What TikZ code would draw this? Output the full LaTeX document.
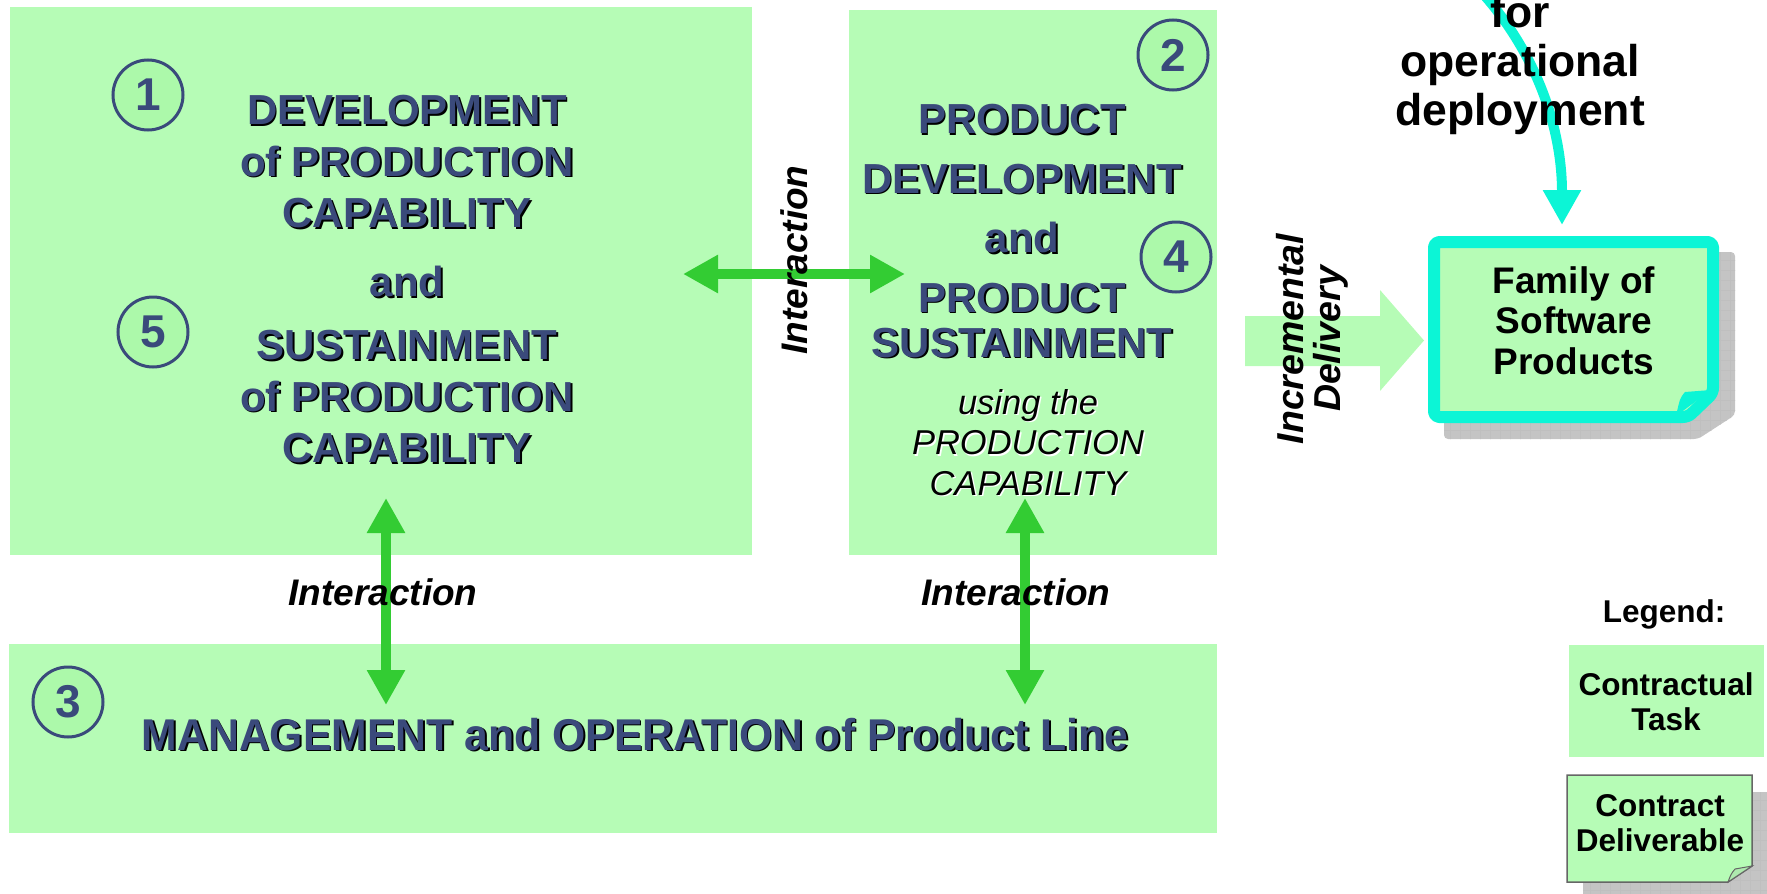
\documentclass[tikz,border=0pt]{standalone}
\usepackage{fontspec}
\setmainfont{Liberation Sans}
\newfontfamily\narrowfont[FakeStretch=0.96]{Liberation Sans}
\usepackage{xcolor}
\usepackage{tikz}
\usetikzlibrary{arrows.meta,positioning,calc}

\definecolor{taskgreen}{HTML}{B6FCB6}
\definecolor{circgreen}{HTML}{ACF9AA}
\definecolor{navy}{HTML}{3A4A7B}
\definecolor{linkgreen}{HTML}{33CC33}
\definecolor{deploycyan}{HTML}{0CF5D6}
\definecolor{pagegrey}{HTML}{C4C4C4}

% text with a drop shadow
\newcommand{\shd}[1]{\leavevmode\rlap{\kern1.8pt\raisebox{-1.8pt}{\color{black}#1}}#1}
\newcommand{\wshd}[1]{\leavevmode\rlap{\kern1.5pt\raisebox{-1.5pt}{\color{white}#1}}#1}

\begin{document}
\begin{tikzpicture}[x=1pt,y=-1pt,
    taskbox/.style={fill=taskgreen, inner sep=0pt, anchor=north west},
    numcircle/.style={circle, draw=navy, line width=3pt, fill=circgreen, minimum size=70pt,
      inner sep=0pt, text=navy, font=\fontsize{46}{46}\selectfont\bfseries},
    navytext/.style={text=navy, align=center, inner sep=0pt, font=\fontsize{42}{51.5}\selectfont\bfseries},
    linklabel/.style={inner sep=0pt, align=center, font=\fontsize{37}{37}\selectfont\bfseries\itshape},
    blacktext/.style={inner sep=0pt, align=center, anchor=north},
    linkarrow/.style={draw=linkgreen, line width=10pt,
      {Triangle[length=35pt,width=36pt]}-{Triangle[length=35pt,width=36pt]}}]
  \useasboundingbox (0,0) rectangle (1767,894);

  % Task boxes
  \node[taskbox, minimum width=742pt, minimum height=548pt] (capbox) at (10,7) {};
  \node[taskbox, minimum width=368pt, minimum height=545pt] (prodbox) at (849,10) {};
  \node[taskbox, minimum width=1208pt, minimum height=189pt] (mgmtbox) at (9,644) {};

  % Task titles
  \node[navytext, anchor=north] (captext) at (407,95)
    {\shd{DEVELOPMENT}\\ \shd{of PRODUCTION}\\ \shd{CAPABILITY}\\[17.5pt] \shd{and}\\[11.5pt]
     \shd{SUSTAINMENT}\\ \shd{of PRODUCTION}\\ \shd{CAPABILITY}};
  \node[navytext, anchor=north, font=\fontsize{42}{59.5}\selectfont\bfseries] (prodtext) at (1022,104)
    {\shd{PRODUCT}\\ \shd{DEVELOPMENT}\\ \shd{and}\\ \shd{PRODUCT}\\[-14.5pt] \shd{SUSTAINMENT}};
  \node[blacktext, font=\fontsize{34.5}{40.5}\selectfont\itshape] (usetext) at (1028,389)
    {\wshd{using the}\\ \wshd{PRODUCTION}\\ \wshd{CAPABILITY}};
  \node[navytext, anchor=base, font=\narrowfont\fontsize{44.5}{50}\selectfont\bfseries] (mgmttext) at (635,750)
    {\shd{MANAGEMENT and OPERATION of Product Line}};

  % Task numbers
  \node[numcircle] (n1) at (148,95) {1};
  \node[numcircle] (n5) at (153,332) {5};
  \node[numcircle] (n2) at (1173,55) {2};
  \node[numcircle] (n4) at (1176,257) {4};
  \node[numcircle] (n3) at (68,702) {3};

  % Interactions
  \coordinate (capright) at (683,274);
  \coordinate (prodleft) at (905,274);
  \coordinate (capdown) at (386,498);
  \coordinate (mgmtleft) at (386,705);
  \coordinate (proddown) at (1025,498);
  \coordinate (mgmtright) at (1025,705);
  \draw[linkarrow] (capright) -- (prodleft);
  \draw[linkarrow] (capdown) -- (mgmtleft);
  \draw[linkarrow] (proddown) -- (mgmtright);
  \node[linklabel, rotate=90] (ilabtop) at (794,260) {Interaction};
  \node[linklabel, anchor=base] (ilableft) at (383,605) {Interaction};
  \node[linklabel, anchor=base] (ilabright) at (1016,605) {Interaction};

  % Incremental delivery
  \fill[taskgreen] (1245,316) -- (1380,316) -- (1380,290) -- (1424,340.5) -- (1380,391) -- (1380,366) -- (1245,366) -- cycle;
  \node[linklabel, rotate=90, font=\fontsize{37.5}{37}\selectfont\bfseries\itshape] (deliv) at (1312,339) {Incremental\\Delivery};

  % Family of software products, pages behind
  \begin{scope}
    \clip[rounded corners=4pt] (1444,252) -- (1735,252) -- (1735,415) -- (1698,439) -- (1444,439) -- cycle;
    \fill[pagegrey] (1440,248) rectangle (1740,443);
    \draw[step=10pt, gray!50, line width=0.5pt] (1440,248) grid (1740,443);
  \end{scope}
  \filldraw[fill=taskgreen, draw=deploycyan, line width=12pt, rounded corners=5pt, line join=round]
    (1434,242) -- (1713,242) -- (1713,393) -- (1688,417) -- (1434,417) -- cycle;
  \fill[deploycyan] (1711,390) -- (1685,392) .. controls (1680,398) .. (1676,416) -- cycle;
  \node[blacktext, font=\fontsize{37}{40.5}\selectfont\bfseries] (family) at (1574,266) {Family of\\Software\\Products};

  % Operational deployment
  \coordinate (deploystart) at (1470,-20);
  \coordinate (familytop) at (1562,225);
  \draw[draw=deploycyan, line width=10pt, -{Triangle[length=35pt,width=36pt]}]
    (deploystart) .. controls (1530,40) and (1562,120) .. (familytop);
  \node[blacktext, font=\fontsize{44.5}{49}\selectfont\bfseries] (deploy) at (1520,-5.4) {for\\operational\\deployment};

  % Legend
  \node[inner sep=0pt, anchor=base, font=\fontsize{31.5}{35}\selectfont\bfseries] (legend) at (1664,622) {Legend:};
  \node[taskbox, minimum width=195pt, minimum height=112pt] (legtask) at (1569,645) {};
  \node[blacktext, font=\fontsize{31.5}{35}\selectfont\bfseries] (legtasktext) at (1666,672) {Contractual\\Task};
  \begin{scope}
    \clip (1583,792) rectangle (1780,905);
    \fill[pagegrey] (1583,792) rectangle (1780,905);
    \draw[step=10pt, gray!50, line width=0.5pt] (1580,788) grid (1780,905);
  \end{scope}
  \filldraw[fill=taskgreen, draw=gray!80!black, line width=1.5pt]
    (1567,775) -- (1752,775) -- (1752,866) -- (1728,882) -- (1567,882) -- cycle;
  \filldraw[fill=taskgreen!85!gray, draw=gray!80!black, line width=1pt]
    (1752,866) -- (1735,869) .. controls (1731,874) .. (1728,882) -- cycle;
  \node[blacktext, font=\fontsize{31.5}{35}\selectfont\bfseries] (legdeltext) at (1660,794) {Contract\\Deliverable};
\end{tikzpicture}
\end{document}
